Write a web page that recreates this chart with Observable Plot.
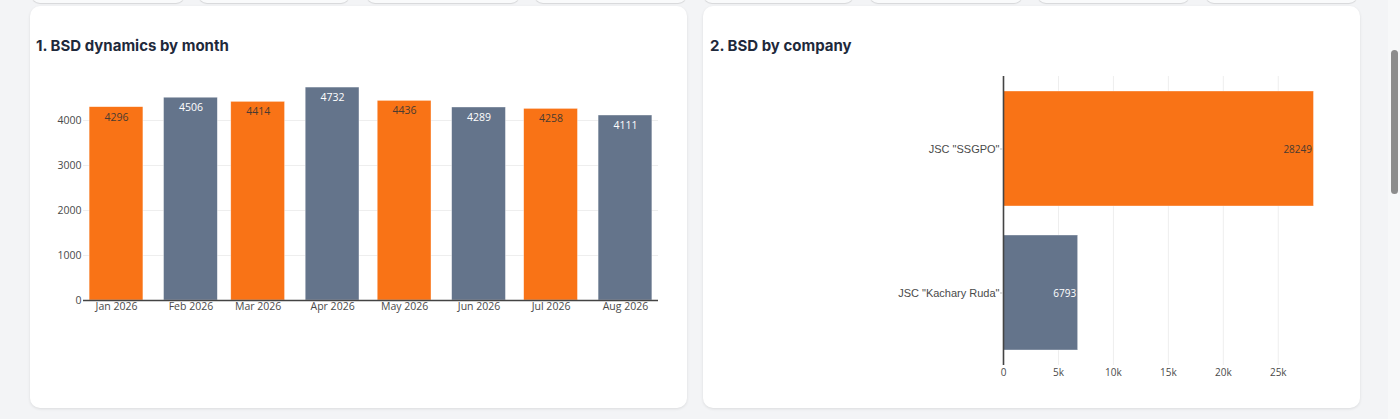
<!DOCTYPE html>
<html>
<head>
<meta charset="utf-8">
<script src="https://cdn.jsdelivr.net/npm/d3@7"></script>
<script src="https://cdn.jsdelivr.net/npm/@observablehq/plot@0.6"></script>
<style>
  html, body { margin: 0; padding: 0; width: 1400px; height: 419px; overflow: hidden; background: #f3f4f6; }
  .mini { position: absolute; top: -12px; height: 15px; background: #f9fafb; border-radius: 0 0 9px 9px; box-shadow: 0 1px 1px rgba(0,0,0,0.12); }
  .card { position: absolute; top: 6px; height: 402px; width: 657px; background: #fff; border-radius: 10px; box-shadow: 0 1px 3px rgba(0,0,0,0.10); }
  .title { position: absolute; top: 30px; font-family: Inter, "Noto Sans", sans-serif; font-weight: 700; font-size: 15px; color: #1e293b; white-space: nowrap; }
  .chart { position: absolute; left: 0; top: 60px; }
  .track { position: absolute; left: 1388px; top: 0; width: 12px; height: 419px; background: #f7f8f9; }
  .thumb { position: absolute; left: 1391px; top: 50px; width: 7px; height: 144px; background: #8c8c8c; border-radius: 4px; }
</style>
</head>
<body>
<div class="mini" style="left:31px;width:154px"></div>
<div class="mini" style="left:198px;width:152px"></div>
<div class="mini" style="left:366px;width:154px"></div>
<div class="mini" style="left:534px;width:153px"></div>
<div class="mini" style="left:703px;width:151px"></div>
<div class="mini" style="left:869px;width:154px"></div>
<div class="mini" style="left:1037px;width:153px"></div>
<div class="mini" style="left:1205px;width:153px"></div>

<div class="card" id="card1" style="left:30px">
  <div class="title" style="left:6px">1. BSD dynamics by month</div>
  <div class="chart" id="chart1"></div>
</div>
<div class="card" id="card2" style="left:703px">
  <div class="title" style="left:7px">2. BSD by company</div>
  <div class="chart" id="chart2"></div>
</div>
<div class="track"></div>
<div class="thumb"></div>

<script>
// ---- Data: chart 1 ----
const months = ["2026-01-01", "2026-02-01", "2026-03-01", "2026-04-01", "2026-05-01", "2026-06-01", "2026-07-01", "2026-08-01"];
const monthValues = [4296, 4506, 4414, 4732, 4436, 4289, 4258, 4111];
const yTicks = [0, 1000, 2000, 3000, 4000];

// ---- Data: chart 2 ----
const companies = ["JSC \"SSGPO\"", "JSC \"Kachary Ruda\""];
const companyValues = [28249, 6793];
const xTicks = [0, 5000, 10000, 15000, 20000, 25000];

const ORANGE = "#f97316";
const SLATE = "#64748b";
const DARK_LABEL = "#4a3b31";

const DAY = 86400000;
const halfBar = 11.2 * DAY; // bar width = 0.8 x shortest month spacing (Plotly default)

const monthData = months.map((m, i) => ({date: new Date(m + "T00:00:00Z"), value: monthValues[i], idx: i}));

const chart1 = Plot.plot({
  width: 657,
  height: 340,
  marginLeft: 53,
  marginRight: 29,
  marginTop: 10,
  marginBottom: 106,
  style: {fontFamily: "'Open Sans', sans-serif", fontSize: "11px", color: "#4a4a4a", background: "transparent"},
  x: {type: "utc", domain: [new Date("2025-12-18T06:00:00Z"), new Date("2026-08-14T18:00:00Z")], label: null},
  y: {domain: [0, 4978], label: null},
  marks: [
    Plot.gridY(yTicks.filter(d => d > 0), {stroke: "#eeeeee", strokeOpacity: 1}),
    Plot.rectY(monthData, {
      x1: d => new Date(+d.date - halfBar),
      x2: d => new Date(+d.date + halfBar),
      y1: 0,
      y2: "value",
      fill: d => d.idx % 2 === 0 ? ORANGE : SLATE,
      stroke: "#ffffff", strokeWidth: 0.6, strokeOpacity: 0.6
    }),
    Plot.ruleY([0], {stroke: "#444", strokeWidth: 1.6}),
    Plot.axisY({ticks: yTicks, tickFormat: d => String(d), tickSize: 0, tickPadding: 2, fontSize: 10.5, label: null}),
    Plot.axisX({ticks: monthData.map(d => d.date), tickFormat: d3.utcFormat("%b %Y"), tickSize: 0, tickPadding: 2, fontSize: 10.5, label: null}),
    Plot.text(monthData, {
      x: "date", y: "value",
      text: d => String(d.value),
      dy: 10, lineAnchor: "middle",
      fontSize: 10.5,
      fill: d => d.idx % 2 === 0 ? DARK_LABEL : "#ffffff"
    })
  ]
});
document.getElementById("chart1").appendChild(chart1);

const companyData = companies.map((c, i) => ({name: c, value: companyValues[i], idx: i}));

const chart2 = Plot.plot({
  width: 657,
  height: 340,
  marginLeft: 300,
  marginRight: 31,
  marginTop: 10,
  marginBottom: 41,
  style: {fontFamily: "'Open Sans', sans-serif", fontSize: "10px", color: "#4a4a4a", background: "transparent"},
  x: {domain: [0, 29660], label: null},
  y: {domain: companies, paddingInner: 0.2, paddingOuter: 0.1, label: null},
  marks: [
    Plot.gridX(xTicks.filter(d => d > 0), {stroke: "#eeeeee", strokeOpacity: 1}),
    Plot.barX(companyData, {
      x: "value", y: "name",
      fill: d => d.idx === 0 ? ORANGE : SLATE,
      stroke: "#ffffff", strokeWidth: 0.6, strokeOpacity: 0.6
    }),
    Plot.ruleX([0], {stroke: "#444", strokeWidth: 1.6}),
    Plot.axisX({ticks: xTicks, tickFormat: d => d === 0 ? "0" : (d / 1000) + "k", tickSize: 0, tickPadding: 3, fontSize: 10, label: null}),
    Plot.axisY({tickSize: 3, tickPadding: 1, fontSize: 11, fontFamily: "'Liberation Sans', Arial, sans-serif", stroke: "#bbb", label: null}),
    Plot.text(companyData, {
      x: "value", y: "name",
      text: d => String(d.value),
      textAnchor: "end", dx: -2, dy: 1,
      fontSize: 10,
      fill: d => d.idx === 0 ? DARK_LABEL : "#ffffff"
    })
  ]
});
document.getElementById("chart2").appendChild(chart2);
</script>
</body>
</html>
